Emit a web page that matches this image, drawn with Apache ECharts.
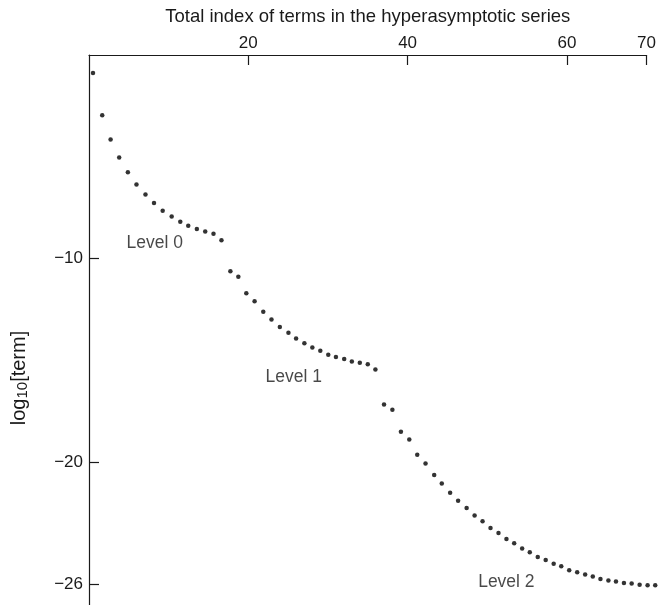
<!DOCTYPE html>
<html>
<head>
<meta charset="utf-8">
<script src="https://cdn.jsdelivr.net/npm/echarts@6/dist/echarts.min.js"></script>
<style>html,body{margin:0;padding:0;background:#fff;}#c{width:659px;height:605px;}</style>
</head>
<body>
<div id="c"></div>
<script>
// Level 0 terms
const level0X = [0.5, 1.66, 2.71, 3.79, 4.88, 5.96, 7.09, 8.16, 9.25, 10.38, 11.46, 12.46, 13.54, 14.59, 15.63, 16.63];
const level0Y = [-0.88, -2.96, -4.15, -5.03, -5.75, -6.36, -6.85, -7.27, -7.65, -7.93, -8.19, -8.38, -8.54, -8.66, -8.77, -9.10];
// Level 1 terms
const level1X = [17.75, 18.75, 19.75, 20.79, 21.88, 22.91, 23.96, 25.04, 26.0, 27.04, 28.04, 29.04, 30.04, 31.0, 32.04, 33.0, 34.0, 35.0, 35.96];
const level1Y = [-10.62, -10.88, -11.70, -12.09, -12.61, -12.98, -13.35, -13.64, -13.92, -14.15, -14.36, -14.52, -14.71, -14.82, -14.92, -15.05, -15.11, -15.18, -15.44];
// Level 2 terms
const level2X = [37.04, 38.09, 39.16, 40.21, 41.21, 42.25, 43.34, 44.29, 45.34, 46.34, 47.41, 48.41, 49.41, 50.41, 51.41, 52.41, 53.38, 54.38, 55.34, 56.34, 57.34, 58.34, 59.29, 60.29, 61.29, 62.29, 63.25, 64.21, 65.21, 66.16, 67.16, 68.13, 69.13, 70.13, 71.09];
const level2Y = [-17.16, -17.42, -18.50, -18.87, -19.62, -20.05, -20.62, -21.04, -21.49, -21.88, -22.24, -22.61, -22.89, -23.22, -23.47, -23.76, -23.97, -24.23, -24.41, -24.64, -24.79, -24.97, -25.10, -25.29, -25.39, -25.50, -25.60, -25.72, -25.80, -25.85, -25.92, -25.95, -26.00, -26.03, -26.03];
// Tick values
const xTicks = [20, 40, 60, 70];
const yTicks = [-26, -20, -10];
// Level annotations
const levelNames = ['Level 0', 'Level 1', 'Level 2'];
const levelLabelX = [8.25, 25.7, 52.4];
const levelLabelY = [-9.25, -15.81, -25.9];

const FONT = '"Liberation Sans", Arial, Helvetica, sans-serif';
const zip = (xs, ys) => xs.map((x, i) => [x, ys[i]]);

const chart = echarts.init(document.getElementById('c'), null, {renderer: 'canvas'});
const dotStyle = {color: '#000'};
const option = {
  backgroundColor: '#fff',
  animation: false,
  grid: {left: 89, right: 10, top: 55, bottom: 0, containLabel: false},
  xAxis: {
    type: 'value', position: 'top', min: 0, max: 70,
    name: 'Total index of terms in the hyperasymptotic series',
    nameLocation: 'middle', nameGap: 29,
    nameTextStyle: {fontFamily: FONT, fontSize: 18.5, color: '#1a1a1a'},
    splitLine: {show: false},
    axisLine: {onZero: false, lineStyle: {color: '#1a1a1a', width: 1.2}},
    axisTick: {inside: true, length: 10, customValues: xTicks, lineStyle: {color: '#1a1a1a', width: 1.2}},
    axisLabel: {customValues: xTicks, fontFamily: FONT, fontSize: 17, color: '#1a1a1a', margin: 3}
  },
  yAxis: {
    type: 'value', min: -27, max: 0,
    splitLine: {show: false},
    axisLine: {onZero: false, lineStyle: {color: '#1a1a1a', width: 1.2}},
    axisTick: {inside: true, length: 10, customValues: yTicks, lineStyle: {color: '#1a1a1a', width: 1.2}},
    axisLabel: {customValues: yTicks, fontFamily: FONT, fontSize: 17, color: '#1a1a1a', margin: 6,
      formatter: v => (v < 0 ? '\u2212' + Math.abs(v) : String(v))}
  },
  graphic: [{
    type: 'text', x: 19, y: 378, rotation: Math.PI / 2,
    style: {
      text: '{a|log}{b|10}{a|[term]}',
      align: 'center', verticalAlign: 'middle',
      fill: '#1a1a1a',
      rich: {
        a: {fontFamily: FONT, fontSize: 20, fill: '#1a1a1a'},
        b: {fontFamily: FONT, fontSize: 15, fill: '#1a1a1a', padding: [8, 0, 0, 0]}
      }
    }
  }],
  series: [
    {type: 'scatter', name: 'Level 0', data: zip(level0X, level0Y), symbol: 'circle', symbolSize: 4.5, itemStyle: dotStyle, clip: false},
    {type: 'scatter', name: 'Level 1', data: zip(level1X, level1Y), symbol: 'circle', symbolSize: 4.5, itemStyle: dotStyle, clip: false},
    {type: 'scatter', name: 'Level 2', data: zip(level2X, level2Y), symbol: 'circle', symbolSize: 4.5, itemStyle: dotStyle, clip: false},
    {type: 'scatter', name: 'labels', symbolSize: 0, clip: false, silent: true,
      data: levelNames.map((n, i) => ({name: n, value: [levelLabelX[i], levelLabelY[i]]})),
      label: {show: true, position: 'inside', formatter: p => p.name, fontFamily: FONT, fontSize: 17.5, color: '#1a1a1a'}}
  ]
};
chart.setOption(option);
</script>
</body>
</html>
